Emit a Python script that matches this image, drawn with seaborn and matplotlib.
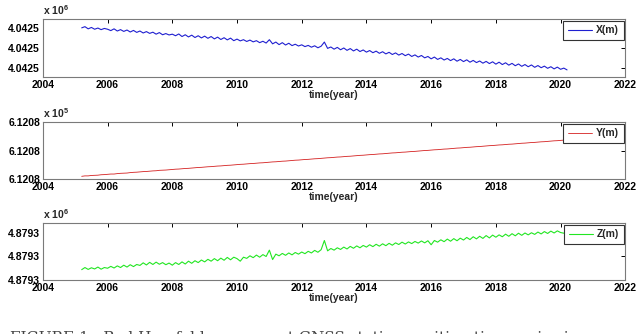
import numpy as np
import pandas as pd
import matplotlib
matplotlib.use('Agg')
import matplotlib.pyplot as plt
import seaborn as sns
from matplotlib.ticker import FuncFormatter

# epochs (decimal year), one sample every 0.1 year
anios = np.round(np.arange(2005.2, 2020.21, 0.1), 1)

# coordinates in mm above a base value
x_base = 4042497.0
x_mm = [502, 508, 497, 504, 495, 501, 493, 499,
        495, 488, 497, 486, 493, 484, 491, 481, 489, 479,
        486, 476, 483, 474, 480, 470, 478, 467, 473, 466,
        470, 462, 471, 458, 467, 456, 465, 453, 462, 451,
        460, 449, 458, 446, 455, 443, 452, 441, 450, 437,
        445, 436, 442, 433, 440, 431, 437, 427, 434, 425,
        442, 421, 430, 417, 427, 415, 424, 412, 419, 410,
        416, 407, 413, 404, 411, 401, 409, 430, 398, 405,
        394, 403, 391, 400, 388, 397, 385, 394, 382, 390,
        379, 387, 376, 384, 373, 381, 370, 378, 367, 375,
        364, 372, 361, 369, 357, 365, 354, 362, 350, 357,
        345, 354, 342, 350, 339, 347, 336, 345, 333, 342,
        331, 340, 328, 337, 326, 334, 323, 332, 321, 330,
        318, 328, 316, 325, 313, 322, 310, 319, 307, 316,
        305, 314, 302, 311, 300, 308, 297, 305, 294, 303,
        292, 298, 289]

y_base = 612081.0
y_mm = [219, 222, 222, 225, 226, 227, 230, 231,
        233, 235, 235, 238, 240, 241, 242, 245, 247, 248,
        250, 252, 253, 255, 257, 258, 261, 262, 263, 265,
        267, 269, 270, 272, 274, 275, 277, 279, 281, 282,
        284, 286, 287, 289, 291, 292, 294, 296, 297, 299,
        301, 303, 304, 306, 308, 309, 311, 313, 314, 316,
        318, 320, 321, 323, 325, 326, 328, 330, 332, 333,
        335, 337, 338, 340, 342, 343, 345, 347, 349, 350,
        352, 354, 355, 357, 359, 360, 362, 364, 366, 367,
        369, 371, 372, 374, 376, 377, 379, 381, 383, 384,
        386, 388, 389, 391, 393, 394, 396, 398, 400, 401,
        403, 405, 406, 408, 410, 411, 413, 415, 417, 418,
        420, 422, 423, 425, 427, 428, 430, 432, 434, 435,
        437, 439, 440, 442, 444, 445, 447, 449, 451, 452,
        454, 456, 457, 459, 461, 462, 464, 466, 468, 469,
        471, 473, 475]

z_base = 4879311.0
z_mm = [44, 53, 45, 52, 47, 55, 46, 53,
        50, 58, 51, 60, 53, 63, 55, 65, 57, 66,
        62, 73, 64, 75, 66, 76, 67, 74, 65, 72,
        63, 74, 66, 77, 68, 80, 71, 82, 74, 85,
        77, 88, 80, 91, 82, 93, 84, 96, 86, 97,
        91, 80, 97, 92, 103, 95, 106, 97, 108, 100,
        127, 87, 110, 103, 113, 105, 115, 107, 117, 110,
        119, 112, 122, 115, 126, 118, 129, 168, 124, 134,
        127, 137, 130, 140, 132, 143, 135, 145, 137, 147,
        140, 150, 142, 152, 144, 154, 146, 156, 148, 158,
        151, 161, 153, 162, 155, 164, 157, 166, 158, 167,
        150, 168, 161, 171, 163, 174, 165, 176, 167, 178,
        170, 181, 172, 184, 175, 186, 177, 189, 179, 191,
        182, 192, 184, 195, 186, 197, 188, 199, 190, 200,
        192, 201, 194, 204, 196, 206, 198, 208, 200, 209,
        202, 199, 210]

paneles = [
    ('X(m)', x_base, x_mm, '#1f1fd0', 0.8, (0.253, 0.547), [0.3, 0.4, 0.5], 6, 1e6),
    ('Y(m)', y_base, y_mm, '#d42020', 0.6, (0.2, 0.6), [0.2, 0.4, 0.6], 5, 1e5),
    ('Z(m)', z_base, z_mm, '#22e622', 0.8, (0.0, 0.2426), [0.0, 0.1, 0.2], 6, 1e6),
]
posiciones = [[0.067, 0.7695, 0.910, 0.1737],
              [0.067, 0.464, 0.910, 0.1707],
              [0.067, 0.1617, 0.910, 0.1707]]

sns.set_style('white')
plt.rcParams['font.family'] = ['Liberation Sans', 'DejaVu Sans']
plt.rcParams['font.weight'] = 'bold'
plt.rcParams['mathtext.default'] = 'regular'

fig = plt.figure(figsize=(6.4, 3.34), dpi=100)

for (nombre, base, mm, color, lw, lim, ticks, exp, escala), pos in zip(paneles, posiciones):
    ax = fig.add_axes(pos)
    df = pd.DataFrame({'t': anios, 'v': base + np.array(mm) / 1000.0})
    sns.lineplot(data=df, x='t', y='v', ax=ax, color=color, lw=lw, label=nombre)
    ax.set_xlim(2004, 2022)
    ax.set_xticks(range(2004, 2023, 2))
    ax.set_ylim(base + lim[0], base + lim[1])
    ax.set_yticks([base + t for t in ticks])
    ax.yaxis.set_major_formatter(FuncFormatter(lambda v, p, e=escala: f'{v / e:.4f}'))
    ax.set_xlabel('time(year)', fontsize=7.5, fontweight='bold', labelpad=0)
    ax.set_ylabel('')
    ax.tick_params(direction='in', length=3, width=0.7, top=True, right=True,
                   labelsize=7.5, pad=2, colors='black')
    for s in ax.spines.values():
        s.set_color('#7a7a7a')
        s.set_linewidth(0.8)
    ax.text(0.0, 1.03, f'x 10$^{{{exp}}}$', transform=ax.transAxes,
            ha='left', va='bottom', fontsize=7.5, fontweight='bold')
    leg = ax.legend(loc='upper right', fontsize=7.5, frameon=True, fancybox=False,
                    framealpha=1, edgecolor='#333333', borderpad=0.45,
                    borderaxespad=0.15, handlelength=2.3, handletextpad=0.4)
    leg.get_frame().set_linewidth(0.8)
    for t in leg.get_texts():
        t.set_fontweight('bold')

fig.text(0.015, -0.025, 'FIGURE 1.  Bad Hersfeld permanent GNSS station position time series in',
         family='DejaVu Serif', fontsize=11, fontweight='normal', color='#444444',
         ha='left', va='baseline')

fig.savefig('out.png', dpi=100)
